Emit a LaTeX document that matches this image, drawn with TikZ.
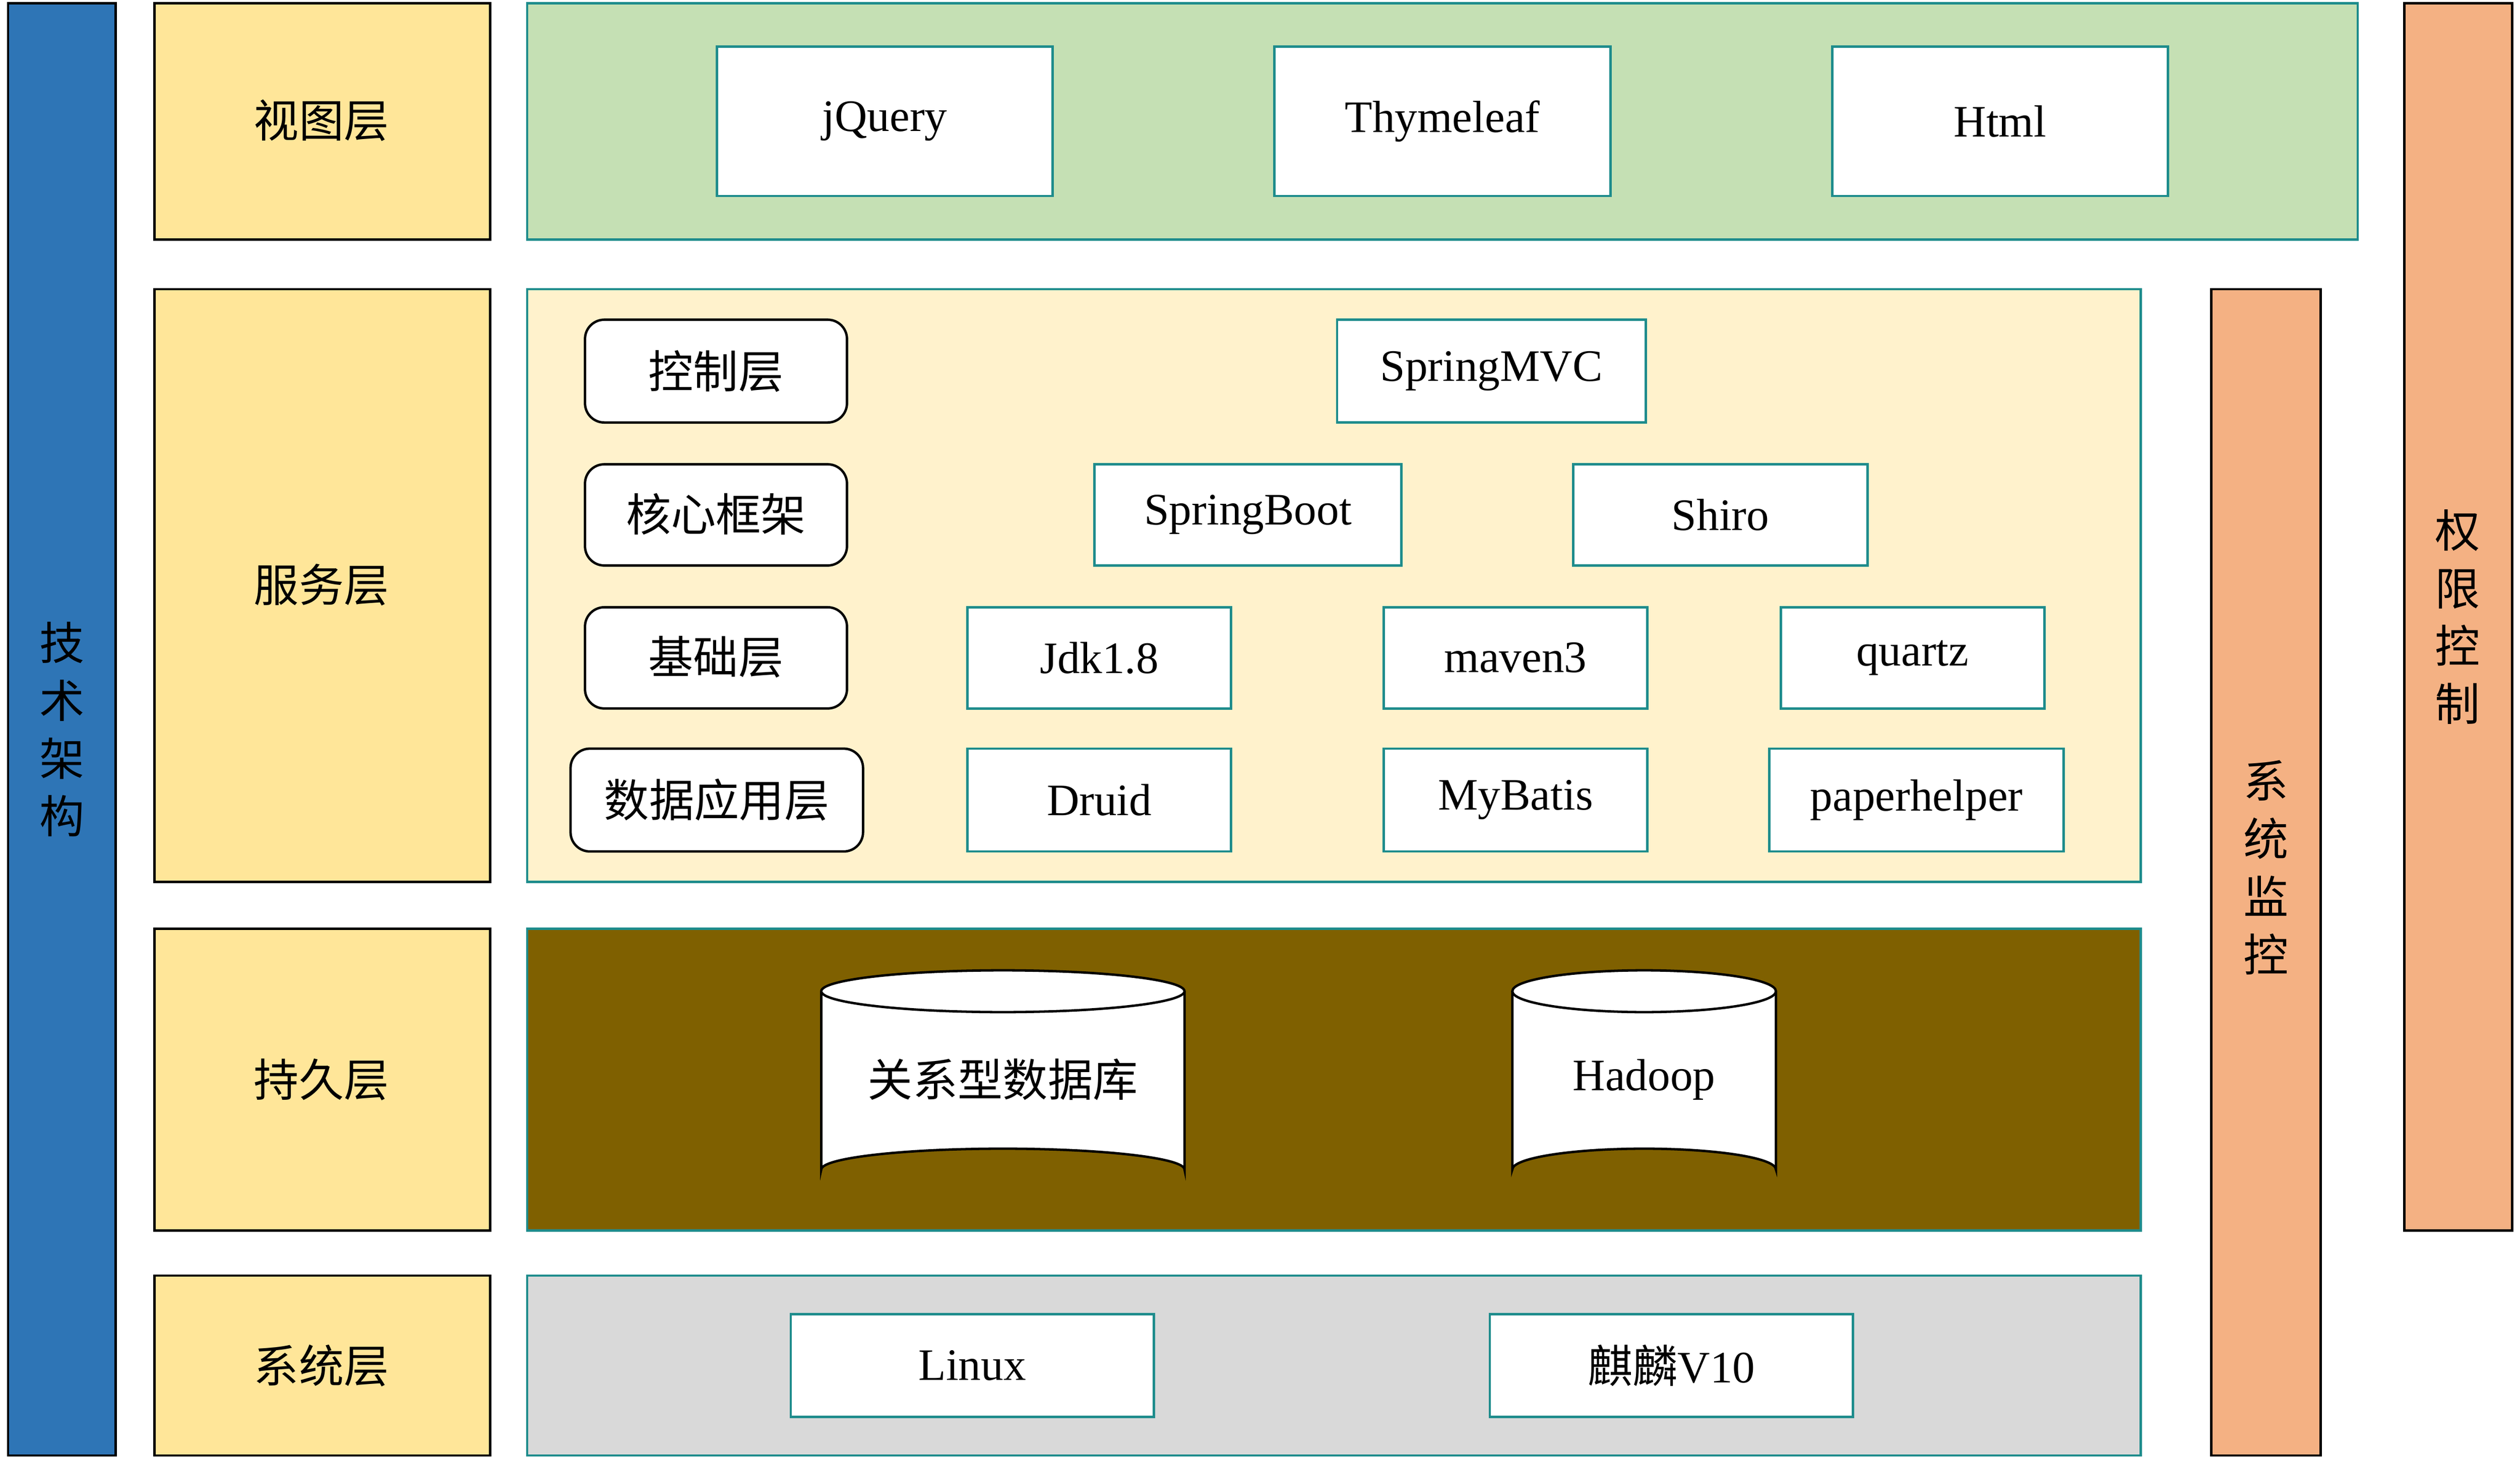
\documentclass[tikz,border=0pt]{standalone}
\usepackage{fontspec}
\setmainfont{Liberation Serif}
\newfontfamily\cjk{Noto Sans CJK SC}
\usetikzlibrary{shapes.geometric}
\definecolor{teal1}{HTML}{1E8C8C}
\definecolor{blueb}{HTML}{2E75B6}
\definecolor{yel}{HTML}{FFE699}
\definecolor{grn}{HTML}{C5E0B4}
\definecolor{lyel}{HTML}{FFF2CC}
\definecolor{brn}{HTML}{7F6000}
\definecolor{gry}{HTML}{D9D9D9}
\definecolor{org}{HTML}{F4B183}
\begin{document}
\begin{tikzpicture}[x=1pt,y=-1pt,
 bx/.style={draw=teal1,line width=1.5pt,fill=white},
 lay/.style={draw=black,line width=1.5pt,fill=yel},
 rb/.style={draw=black,line width=1.5pt,fill=white,rounded corners=12pt},
 pan/.style={draw=teal1,line width=1.5pt},
 t/.style={font=\fontsize{28}{30}\selectfont},
 c/.style={font=\fontsize{28}{36}\selectfont\cjk,align=center}]
\useasboundingbox (0,0) rectangle (1568,908);
\draw[draw=black,line width=1.5pt,fill=blueb] (5,2) rectangle (72,906);
\node[c] (tj) at (38.5,454) {技\\术\\架\\构};
\draw[lay] (96,2) rectangle (305,149); \node[c] (l1) at (200,75) {视图层};
\draw[lay] (96,180) rectangle (305,549); \node[c] (l2) at (200,364) {服务层};
\draw[lay] (96,578) rectangle (305,766); \node[c] (l3) at (200,672) {持久层};
\draw[lay] (96,794) rectangle (305,906); \node[c] (l4) at (200,850) {系统层};
\draw[pan,fill=grn] (328,2) rectangle (1467,149);
\draw[pan,fill=lyel] (328,180) rectangle (1332,549);
\draw[pan,fill=brn] (328,578) rectangle (1332,766);
\draw[pan,fill=gry] (328,794) rectangle (1332,906);
\draw[draw=black,line width=1.5pt,fill=org] (1376,180) rectangle (1444,906);
\node[c] (jk) at (1410,540) {系\\统\\监\\控};
\draw[draw=black,line width=1.5pt,fill=org] (1496,2) rectangle (1563,766);
\node[c] (qx) at (1529,384) {权\\限\\控\\制};
\newcommand\bb[6]{\draw[#6] (#2,#3) rectangle (#4,#5); \node[t] (#1) at ({(#2+#4)/2},{(#3+#5)/2}) {#1};}
\bb{jQuery}{446}{29}{655}{122}{bx}
\bb{Thymeleaf}{793}{29}{1002}{122}{bx}
\bb{Html}{1140}{29}{1349}{122}{bx}
\bb{SpringMVC}{832}{199}{1024}{263}{bx}
\bb{SpringBoot}{681}{289}{872}{352}{bx}
\bb{Shiro}{979}{289}{1162}{352}{bx}
\bb{Jdk1.8}{602}{378}{766}{441}{bx}
\bb{maven3}{861}{378}{1025}{441}{bx}
\bb{quartz}{1108}{378}{1272}{441}{bx}
\bb{Druid}{602}{466}{766}{530}{bx}
\bb{MyBatis}{861}{466}{1025}{530}{bx}
\bb{paperhelper}{1101}{466}{1284}{530}{bx}
\bb{Linux}{492}{818}{718}{882}{bx}
\draw[bx] (927,818) rectangle (1153,882);
\node[t] (ql) at (1040,850) {{\cjk 麒麟}V10};
\draw[rb] (364,199) rectangle (527,263); \node[c] (k1) at (445.5,231) {控制层};
\draw[rb] (364,289) rectangle (527,352); \node[c] (k2) at (445.5,320) {核心框架};
\draw[rb] (364,378) rectangle (527,441); \node[c] (k3) at (445.5,409) {基础层};
\draw[rb] (355,466) rectangle (537,530); \node[c] (k4) at (446,498) {数据应用层};
\newcommand\cyl[5]{%
 \draw[line width=1.5pt,fill=white] (#1,617) -- (#1,728) arc[start angle=180,end angle=360,x radius={(#2-#1)/2},y radius=13] -- (#2,617);
 \draw[line width=1.5pt,fill=white] ({(#1+#2)/2},617) ellipse[x radius={(#2-#1)/2},y radius=13];
 \node[#4] (#5) at ({(#1+#2)/2},672) {#3};}
\cyl{511}{737}{关系型数据库}{c}{db}
\cyl{941}{1105}{Hadoop}{t}{hd}
\end{tikzpicture}
\end{document}
